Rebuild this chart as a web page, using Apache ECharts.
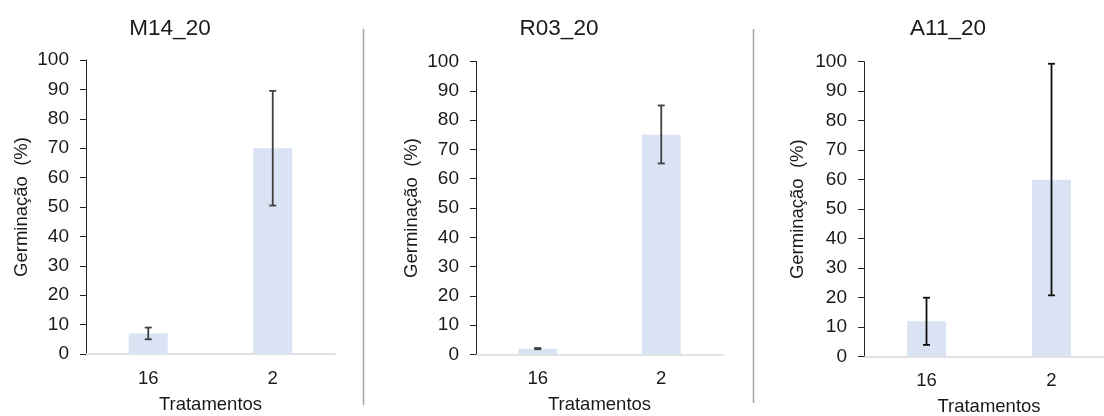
<!DOCTYPE html>
<html>
<head>
<meta charset="utf-8">
<script src="https://cdn.jsdelivr.net/npm/echarts@6/dist/echarts.min.js"></script>
<style>html,body{margin:0;padding:0;background:#fff;}#c{width:1104px;height:416px;}</style>
</head>
<body>
<div id="c"></div>
<script>
var categories = ['16', '2'];
var panelTitles = ['M14_20', 'R03_20', 'A11_20'];
var meanM14 = [7, 70];
var lowM14 = [5, 50.5];
var highM14 = [9, 89.5];
var meanR03 = [2, 75];
var lowR03 = [1.8, 65.2];
var highR03 = [2.2, 85];
var meanA11 = [12, 60];
var lowA11 = [4, 20.8];
var highA11 = [20, 99.3];
var yTicks = [0, 10, 20, 30, 40, 50, 60, 70, 80, 90, 100];

var means = [meanM14, meanR03, meanA11];
var lows = [lowM14, lowR03, lowA11];
var highs = [highM14, highR03, highA11];
var errColors = ['#404040', '#404040', '#111111'];

var grids = [
  {left: 86, top: 60, width: 249, height: 294},
  {left: 476, top: 61.5, width: 247, height: 293},
  {left: 864, top: 61.7, width: 250, height: 295}
];
grids.forEach(function (g) { g.containLabel = false; g.outerBoundsMode = 'none'; });
var titleX = [170, 559, 948];
var textColor = '#1a1a1a';
var font = 'Liberation Sans, Arial, sans-serif';

var option = {
  animation: false,
  backgroundColor: '#ffffff',
  title: panelTitles.map(function (t, i) {
    return {text: t, left: titleX[i], top: 17, padding: 0, textAlign: 'center',
      textStyle: {fontFamily: font, fontSize: 22.5, fontWeight: 'normal', color: textColor}};
  }),
  grid: grids,
  xAxis: grids.map(function (g, i) {
    return {
      type: 'category', gridIndex: i, data: categories,
      name: 'Tratamentos', nameLocation: 'middle', nameGap: 41,
      nameTextStyle: {fontFamily: font, fontSize: 18.5, color: textColor},
      axisLine: {lineStyle: {color: '#d9d9d9', width: 1.5}},
      axisTick: {show: false},
      axisLabel: {fontFamily: font, fontSize: 18.5, color: textColor, margin: 15}
    };
  }),
  yAxis: grids.map(function (g, i) {
    return {
      type: 'value', gridIndex: i, min: 0, max: 100, interval: 10,
      name: 'Germinação  (%)', nameLocation: 'middle', nameGap: i === 2 ? 57 : 55,
      nameTextStyle: {fontFamily: font, fontSize: 18.5, color: textColor},
      axisLine: {show: true, lineStyle: {color: '#222', width: 1}},
      axisTick: {show: true, length: 6, lineStyle: {color: '#222', width: 1}},
      splitLine: {show: false},
      axisLabel: {fontFamily: font, fontSize: 19, color: textColor, margin: 17,
        customValues: yTicks}
    };
  }),
  series: [],
  graphic: [
    {type: 'line', shape: {x1: 363.5, y1: 29, x2: 363.5, y2: 405}, style: {stroke: '#a6a6a6', lineWidth: 1.5}},
    {type: 'line', shape: {x1: 753.5, y1: 29, x2: 753.5, y2: 403}, style: {stroke: '#a6a6a6', lineWidth: 1.5}}
  ]
};

for (var i = 0; i < 3; i++) {
  option.series.push({
    type: 'bar', xAxisIndex: i, yAxisIndex: i, data: means[i], barWidth: 39,
    itemStyle: {color: '#dae3f3'}, z: 2
  });
  (function (idx) {
    option.series.push({
      type: 'custom', xAxisIndex: idx, yAxisIndex: idx, z: 5,
      data: categories.map(function (c, k) { return [k, lows[idx][k], highs[idx][k]]; }),
      renderItem: function (params, api) {
        var lo = api.coord([api.value(0), api.value(1)]);
        var hi = api.coord([api.value(0), api.value(2)]);
        var cap = 3.5;
        var st = {stroke: errColors[idx], lineWidth: 1.8};
        return {type: 'group', children: [
          {type: 'line', shape: {x1: lo[0], y1: lo[1], x2: hi[0], y2: hi[1]}, style: st},
          {type: 'line', shape: {x1: hi[0] - cap, y1: hi[1], x2: hi[0] + cap, y2: hi[1]}, style: st},
          {type: 'line', shape: {x1: lo[0] - cap, y1: lo[1], x2: lo[0] + cap, y2: lo[1]}, style: st}
        ]};
      }
    });
  })(i);
}

var chart = echarts.init(document.getElementById('c'), null, {renderer: 'canvas'});
chart.setOption(option);
</script>
</body>
</html>
